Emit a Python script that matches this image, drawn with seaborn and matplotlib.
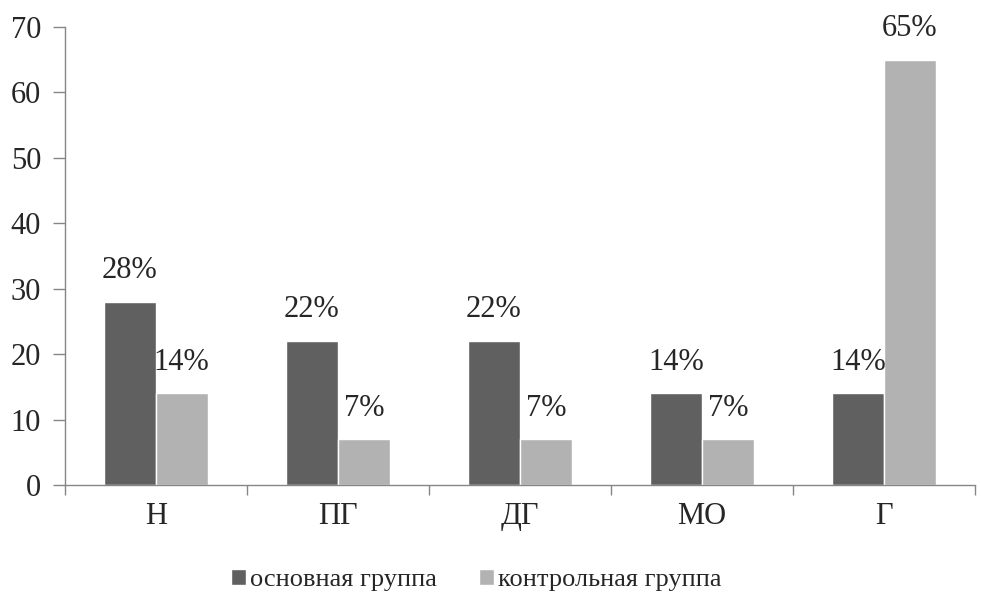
import numpy as np
import pandas as pd
import seaborn as sns
import matplotlib as mpl
from matplotlib import pyplot as plt

categories = ["Н", "ПГ", "ДГ", "МО", "Г"]
main_group = [28, 22, 22, 14, 14]
control_group = [14, 7, 7, 7, 65]
series_names = ["основная группа", "контрольная группа"]

df = pd.DataFrame({
    "cat": categories * 2,
    "val": main_group + control_group,
    "grp": [series_names[0]] * 5 + [series_names[1]] * 5,
})

sns.set_style("white")
plt.rcParams['font.family'] = ['Liberation Serif', 'DejaVu Serif']

fig = plt.figure(figsize=(9.81, 5.97), dpi=100)
ax = fig.add_axes([0.066, 0.1876, 0.928, 0.7672])

palette = {series_names[0]: "#606060", series_names[1]: "#b2b2b2"}
sns.barplot(data=df, x="cat", y="val", hue="grp", palette=palette,
            width=0.57, saturation=1, ax=ax, legend=True)

for cont, vals in zip(ax.containers, [main_group, control_group]):
    ax.bar_label(cont, labels=[f"{v}%" for v in vals], padding=12, fontsize=22)

ax.set_ylim(0, 70)
ax.set_yticks(np.arange(0, 71, 10))
ax.set_xlim(-0.5, 4.5)
ax.set_xlabel("")
ax.set_ylabel("")
ax.set_xticks(np.arange(-0.5, 5, 1), minor=True)
ax.tick_params(axis="x", which="both", bottom=True)
ax.tick_params(axis="x", which="major", length=0, labelsize=22, pad=12)
ax.tick_params(axis="x", which="minor", length=7, width=1, color="#868686", direction="out")
ax.tick_params(axis="y", length=9, width=1, color="#868686", labelsize=22, pad=8, left=True)
for s in ["top", "right"]:
    ax.spines[s].set_visible(False)
for s in ["left", "bottom"]:
    ax.spines[s].set_color("#868686")
    ax.spines[s].set_linewidth(1)

ax.legend(loc="center", bbox_to_anchor=(0.452, -0.207), ncol=2, frameon=False,
          fontsize=19, handlelength=0.55, handleheight=0.55, handletextpad=0.15,
          columnspacing=1.6)

fig.savefig("out.png", dpi=100)
